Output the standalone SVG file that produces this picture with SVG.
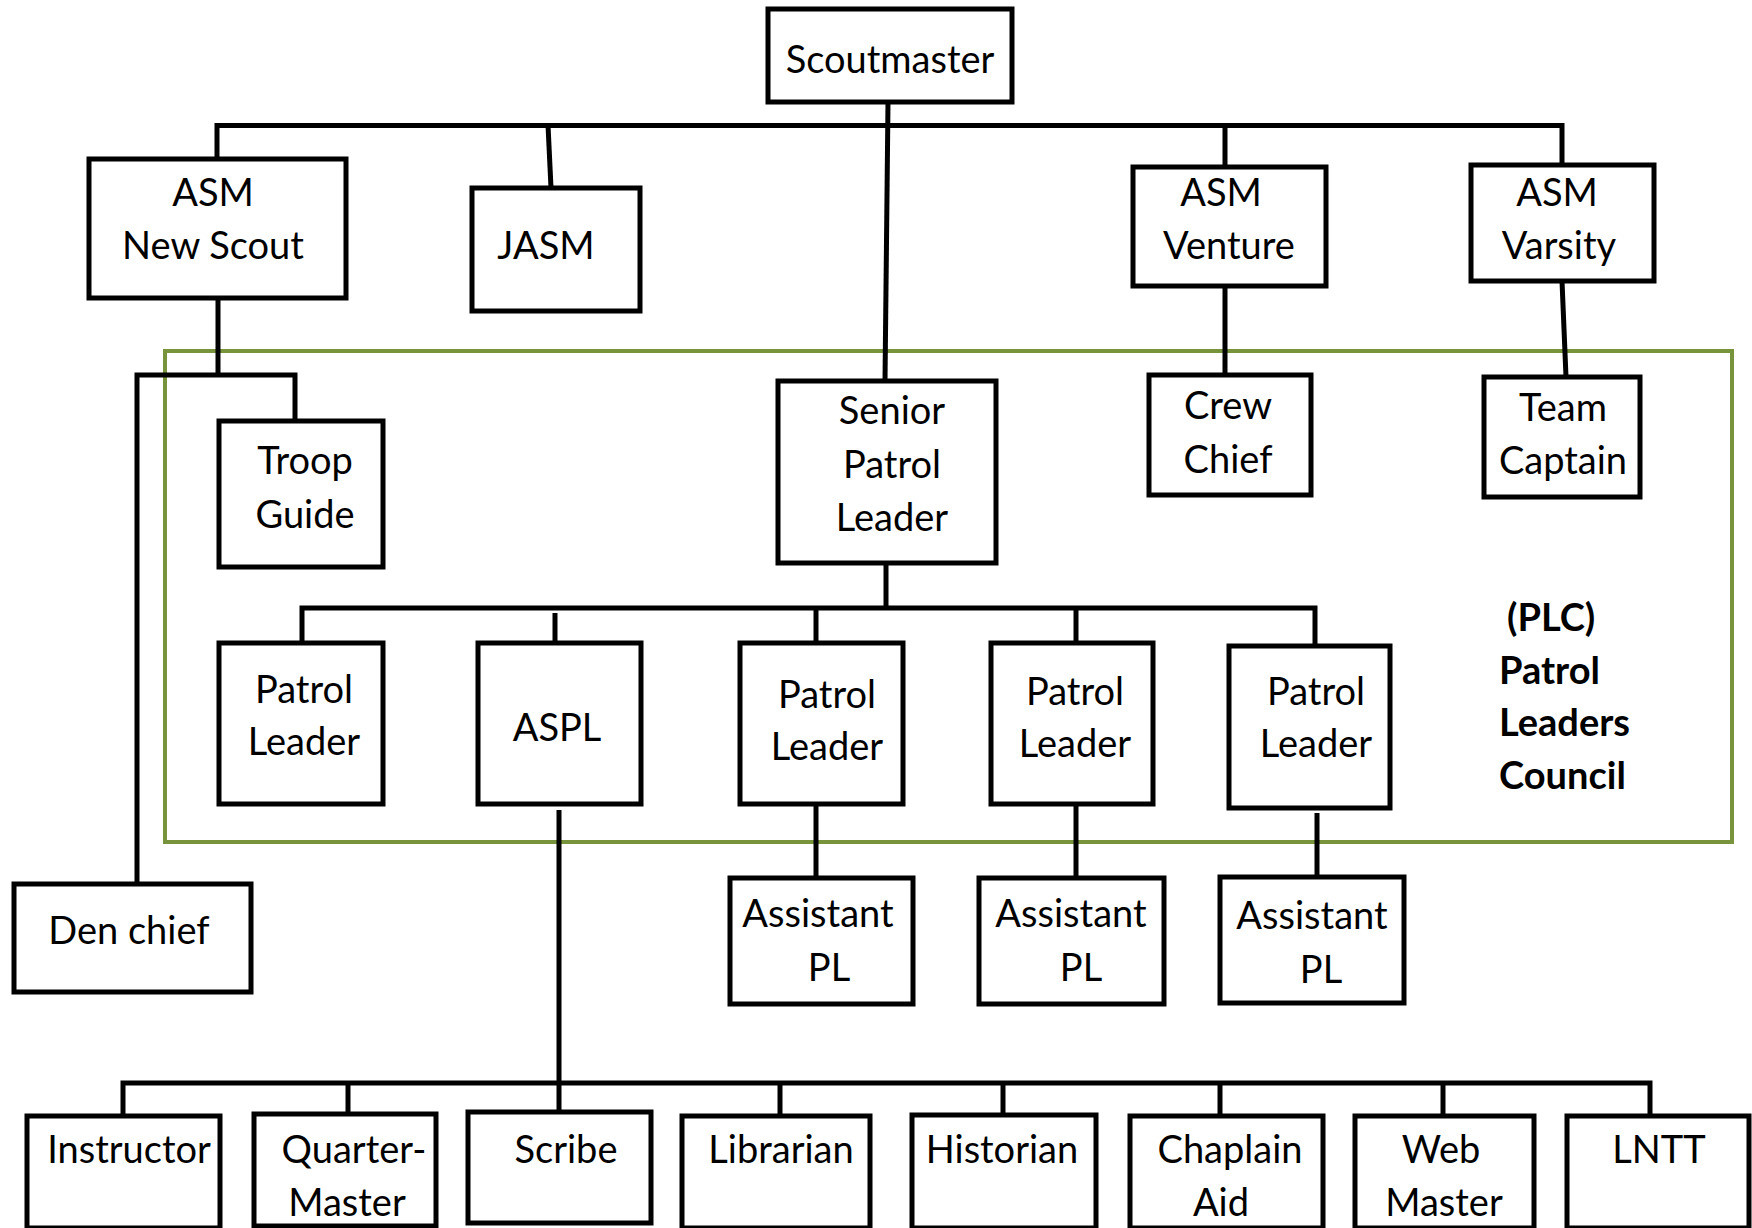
<svg xmlns="http://www.w3.org/2000/svg" width="1752" height="1228" viewBox="0 0 1752 1228">
<style>
.box{fill:#fff;stroke:#000;stroke-width:5}
.t{font-family:Lato,"Liberation Sans",sans-serif;font-size:38px;fill:#000;text-anchor:middle}
.b{font-family:Lato,"Liberation Sans",sans-serif;font-size:38px;font-weight:bold;fill:#000}
.c{stroke:#000;stroke-width:5;fill:none}
.plc{fill:none;stroke:#77933C;stroke-width:4}
</style>
<rect width="1752" height="1228" fill="#fff"/>
<g id="plc-frame"><rect class="plc" x="165" y="351" width="1567" height="491"/></g>
<g id="connectors">
<path class="c" d="M888,102 L885,381"/>
<path class="c" d="M217,159 V125.5 H1562 V165"/>
<path class="c" d="M548,125 L551,188"/>
<path class="c" d="M1225,125 V167"/>
<path class="c" d="M218,298 V375"/>
<path class="c" d="M137,884 V375 H295 V421"/>
<path class="c" d="M1225,286 V375"/>
<path class="c" d="M1562,281 L1566,377"/>
<path class="c" d="M886,563 V608"/>
<path class="c" d="M302,643 V608 H1315 V646"/>
<path class="c" d="M555,613 V643"/>
<path class="c" d="M816,608 V643"/>
<path class="c" d="M1076,608 V643"/>
<path class="c" d="M559,810 V1083"/>
<path class="c" d="M816,804 V878"/>
<path class="c" d="M1076,804 V878"/>
<path class="c" d="M1317,813 V877"/>
<path class="c" d="M123,1116 V1083 H1650 V1116"/>
<path class="c" d="M348,1083 V1114"/>
<path class="c" d="M559,1083 V1112"/>
<path class="c" d="M780,1083 V1116"/>
<path class="c" d="M1003,1083 V1115"/>
<path class="c" d="M1220,1083 V1116"/>
<path class="c" d="M1443,1083 V1116"/>
</g>
<g id="scoutmaster"><rect class="box" x="768" y="9" width="244" height="93"/><text class="t" x="890" y="73">Scoutmaster</text></g>
<g id="asm-new-scout"><rect class="box" x="89" y="159" width="257" height="139"/><text class="t" x="213" y="206">ASM</text><text class="t" x="213" y="259">New Scout</text></g>
<g id="jasm"><rect class="box" x="472" y="188" width="168" height="123"/><text class="t" x="546" y="259">JASM</text></g>
<g id="asm-venture"><rect class="box" x="1133" y="167" width="193" height="119"/><text class="t" x="1221" y="206">ASM</text><text class="t" x="1229" y="259">Venture</text></g>
<g id="asm-varsity"><rect class="box" x="1471" y="165" width="183" height="116"/><text class="t" x="1557" y="206">ASM</text><text class="t" x="1559" y="259">Varsity</text></g>
<g id="troop-guide"><rect class="box" x="219" y="421" width="164" height="146"/><text class="t" x="305" y="474">Troop</text><text class="t" x="305" y="528">Guide</text></g>
<g id="spl"><rect class="box" x="778" y="381" width="218" height="182"/><text class="t" x="892" y="424">Senior</text><text class="t" x="892" y="478">Patrol</text><text class="t" x="892" y="531">Leader</text></g>
<g id="crew-chief"><rect class="box" x="1149" y="375" width="162" height="120"/><text class="t" x="1228" y="419">Crew</text><text class="t" x="1228" y="473">Chief</text></g>
<g id="team-captain"><rect class="box" x="1484" y="377" width="156" height="120"/><text class="t" x="1563" y="421">Team</text><text class="t" x="1563" y="474">Captain</text></g>
<g id="pl1"><rect class="box" x="219" y="643" width="164" height="161"/><text class="t" x="304" y="703">Patrol</text><text class="t" x="304" y="755">Leader</text></g>
<g id="aspl"><rect class="box" x="478" y="643" width="163" height="161"/><text class="t" x="557" y="741">ASPL</text></g>
<g id="pl3"><rect class="box" x="740" y="643" width="163" height="161"/><text class="t" x="827" y="708">Patrol</text><text class="t" x="827" y="760">Leader</text></g>
<g id="pl4"><rect class="box" x="991" y="643" width="162" height="161"/><text class="t" x="1075" y="705">Patrol</text><text class="t" x="1075" y="757">Leader</text></g>
<g id="pl5"><rect class="box" x="1229" y="646" width="161" height="162"/><text class="t" x="1316" y="705">Patrol</text><text class="t" x="1316" y="757">Leader</text></g>
<g id="plc-label"><text class="b" x="1507" y="631">(PLC)</text><text class="b" x="1499" y="684">Patrol</text><text class="b" x="1499" y="736">Leaders</text><text class="b" x="1499" y="789">Council</text></g>
<g id="den-chief"><rect class="box" x="14" y="884" width="237" height="108"/><text class="t" x="129" y="944">Den chief</text></g>
<g id="apl1"><rect class="box" x="730" y="878" width="183" height="126"/><text class="t" x="818" y="927">Assistant</text><text class="t" x="829" y="981">PL</text></g>
<g id="apl2"><rect class="box" x="979" y="878" width="185" height="126"/><text class="t" x="1071" y="927">Assistant</text><text class="t" x="1081" y="981">PL</text></g>
<g id="apl3"><rect class="box" x="1220" y="877" width="184" height="126"/><text class="t" x="1312" y="929">Assistant</text><text class="t" x="1321" y="983">PL</text></g>
<g id="instructor"><rect class="box" x="27" y="1116" width="193" height="112"/><text class="t" x="129" y="1163">Instructor</text></g>
<g id="quartermaster"><rect class="box" x="254" y="1114" width="182" height="112"/><text class="t" x="354" y="1163">Quarter-</text><text class="t" x="347" y="1216">Master</text></g>
<g id="scribe"><rect class="box" x="468" y="1112" width="183" height="111"/><text class="t" x="566" y="1163">Scribe</text></g>
<g id="librarian"><rect class="box" x="682" y="1116" width="188" height="112"/><text class="t" x="781" y="1163">Librarian</text></g>
<g id="historian"><rect class="box" x="912" y="1115" width="184" height="113"/><text class="t" x="1002" y="1163">Historian</text></g>
<g id="chaplain-aid"><rect class="box" x="1130" y="1116" width="193" height="112"/><text class="t" x="1230" y="1163">Chaplain</text><text class="t" x="1221" y="1216">Aid</text></g>
<g id="web-master"><rect class="box" x="1355" y="1116" width="179" height="112"/><text class="t" x="1441" y="1163">Web</text><text class="t" x="1444" y="1216">Master</text></g>
<g id="lntt"><rect class="box" x="1567" y="1116" width="182" height="112"/><text class="t" x="1659" y="1163">LNTT</text></g>
</svg>
